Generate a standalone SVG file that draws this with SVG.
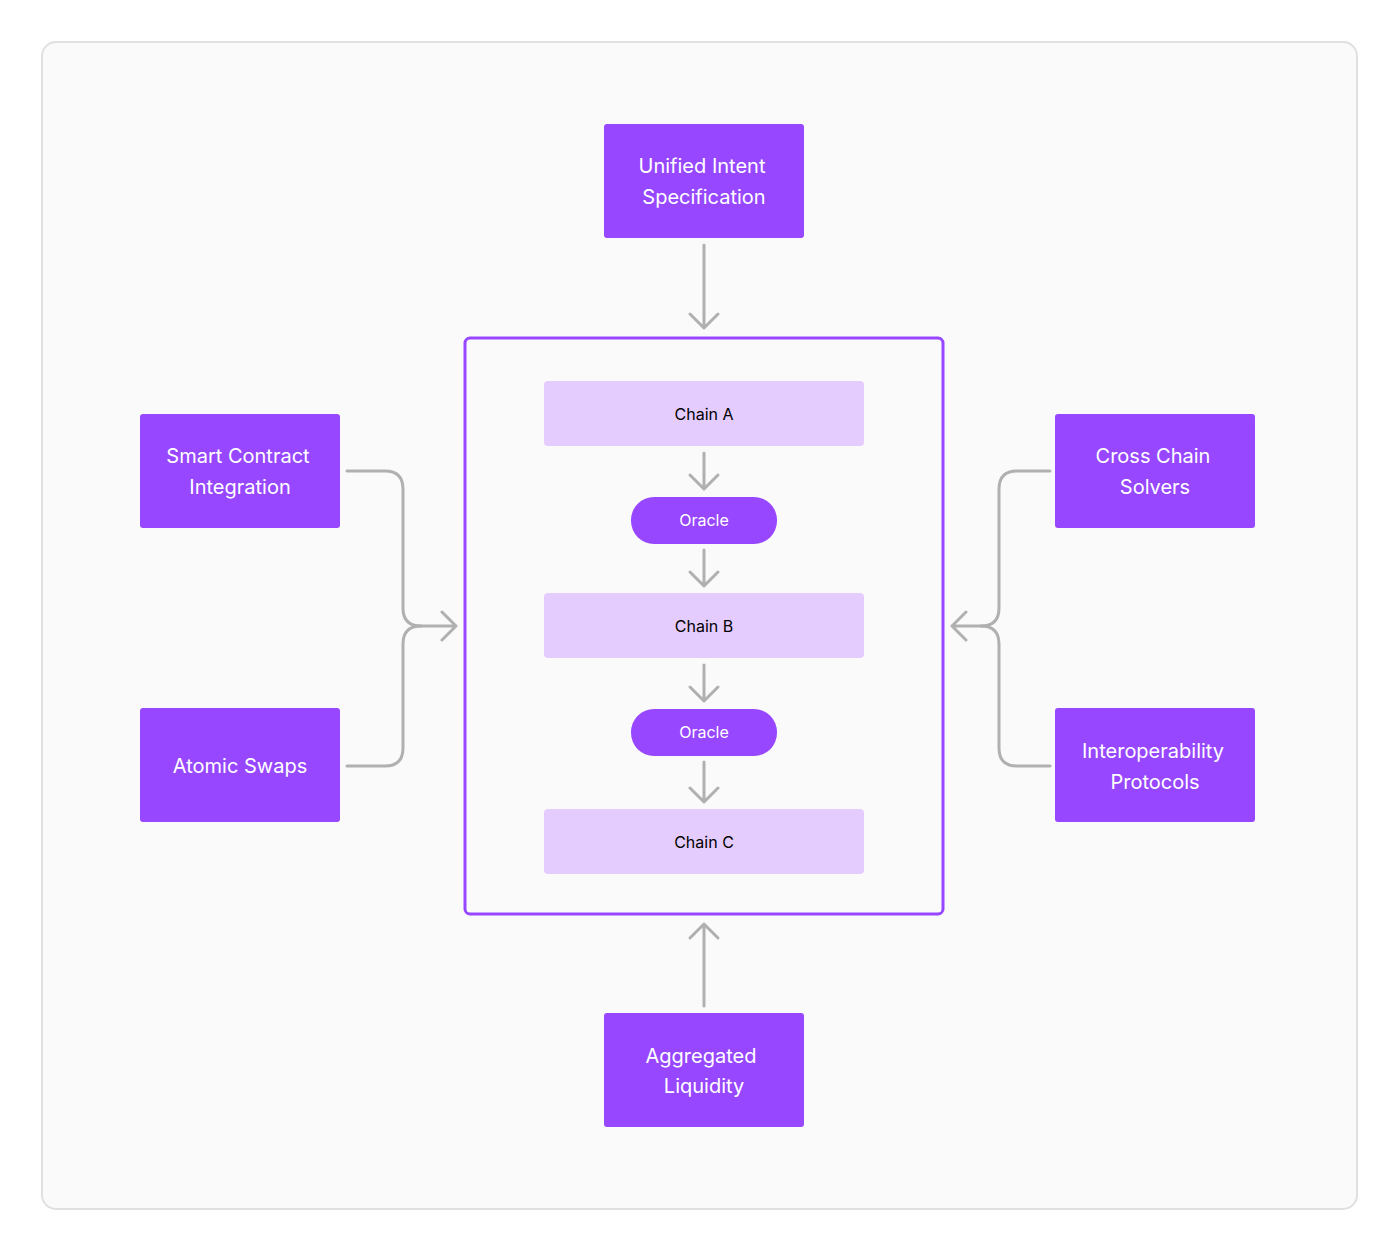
<svg xmlns="http://www.w3.org/2000/svg" width="1400" height="1252" viewBox="0 0 1400 1252">
<style>
.n{fill:#9747FF}
.l{fill:#E5CCFF}
.t{font-family:Inter,"Liberation Sans",sans-serif;font-size:20px;fill:#fff;text-anchor:middle}
.s{font-family:Inter,"Liberation Sans",sans-serif;font-size:16px;text-anchor:middle}
.c{fill:none;stroke:#B0B0B0;stroke-width:3;stroke-linecap:round;stroke-linejoin:round}
</style>
<rect width="1400" height="1252" fill="#fff"/>
<rect x="42" y="42" width="1315" height="1167" rx="14" fill="#FAFAFA" stroke="#E0E0E0" stroke-width="2"/>
<g id="connectors" class="c">
<path d="M704 245V328M690 314L704 328L718 314"/>
<path d="M704 453V489M690 475L704 489L718 475"/>
<path d="M704 550V586M690 572L704 586L718 572"/>
<path d="M704 665V701M690 687L704 701L718 687"/>
<path d="M704 762V802M690 788L704 802L718 788"/>
<path d="M704 1006V924M690 938L704 924L718 938"/>
<path d="M347 471H385Q403 471 403 489V608Q403 626 421 626H456M442 612L456 626L442 640"/>
<path d="M347 766H385Q403 766 403 748V644Q403 626 421 626"/>
<path d="M1050 471H1017Q999 471 999 489V608Q999 626 981 626H952M966 612L952 626L966 640"/>
<path d="M1050 766H1017Q999 766 999 748V644Q999 626 981 626"/>
</g>
<g id="container"><rect x="465" y="338" width="478" height="576" rx="5" fill="none" stroke="#9747FF" stroke-width="3"/></g>
<g id="unified"><rect class="n" x="604" y="124" width="200" height="114" rx="3"/><text class="t" x="702" y="173">Unified Intent</text><text class="t" x="704" y="204">Specification</text></g>
<g id="smart"><rect class="n" x="140" y="414" width="200" height="114" rx="3"/><text class="t" x="238" y="463">Smart Contract</text><text class="t" x="240" y="494">Integration</text></g>
<g id="atomic"><rect class="n" x="140" y="708" width="200" height="114" rx="3"/><text class="t" x="240" y="773">Atomic Swaps</text></g>
<g id="cross"><rect class="n" x="1055" y="414" width="200" height="114" rx="3"/><text class="t" x="1153" y="463">Cross Chain</text><text class="t" x="1155" y="494">Solvers</text></g>
<g id="interop"><rect class="n" x="1055" y="708" width="200" height="114" rx="3"/><text class="t" x="1153" y="758">Interoperability</text><text class="t" x="1155" y="789">Protocols</text></g>
<g id="aggregated"><rect class="n" x="604" y="1013" width="200" height="114" rx="3"/><text class="t" x="701" y="1063">Aggregated</text><text class="t" x="704" y="1093">Liquidity</text></g>
<g id="chainA"><rect class="l" x="544" y="381" width="320" height="65" rx="4"/><text class="s" x="704" y="420">Chain A</text></g>
<g id="oracle1"><rect class="n" x="631" y="497" width="146" height="47" rx="23"/><text class="s" x="704" y="526" fill="#fff">Oracle</text></g>
<g id="chainB"><rect class="l" x="544" y="593" width="320" height="65" rx="4"/><text class="s" x="704" y="632">Chain B</text></g>
<g id="oracle2"><rect class="n" x="631" y="709" width="146" height="47" rx="23"/><text class="s" x="704" y="738" fill="#fff">Oracle</text></g>
<g id="chainC"><rect class="l" x="544" y="809" width="320" height="65" rx="4"/><text class="s" x="704" y="848">Chain C</text></g>
</svg>
